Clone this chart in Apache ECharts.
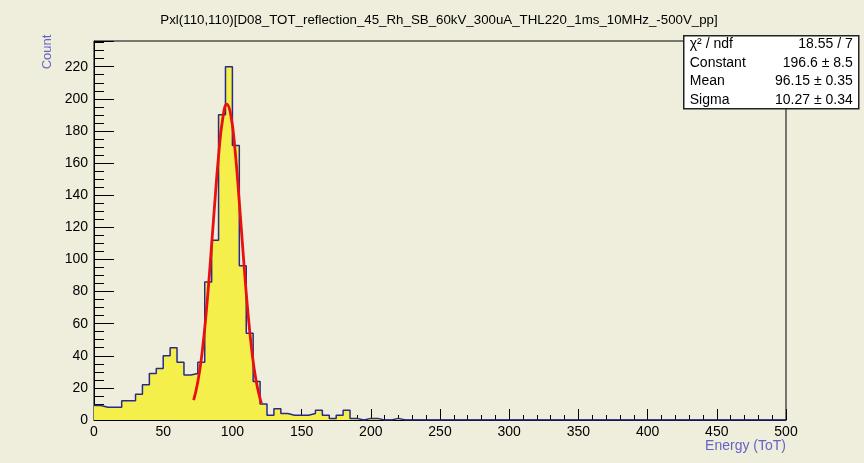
<!DOCTYPE html>
<html>
<head>
<meta charset="utf-8">
<script src="https://cdn.jsdelivr.net/npm/echarts@6/dist/echarts.min.js"></script>
<style>
    html, body { margin: 0; padding: 0; background: #efeedd; }
    #chart { width: 864px; height: 463px; }
</style>
</head>
<body>
<div id="chart"></div>
<script>
'use strict';

// histogram: 100 bins of width 5 from 0 to 500
var binWidth = 5;
var counts = [
    9, 8, 8, 8, 12, 12, 16, 22, 29, 32,
    40, 45, 36, 28, 29, 36, 86, 112, 190, 220,
    171, 96, 54, 24, 10, 3, 7, 4, 3, 3,
    3, 4, 6, 3, 1, 3, 6, 1, 0, 1,
    1, 0, 0, 1, 0, 0, 0, 0, 0, 0,
    0, 0, 0, 0, 0, 0, 0, 0, 0, 0,
    0, 0, 0, 0, 0, 0, 0, 0, 0, 0,
    0, 0, 0, 0, 0, 0, 0, 0, 0, 0,
    0, 0, 0, 0, 0, 0, 0, 0, 0, 0,
    0, 0, 0, 0, 0, 0, 0, 0, 0, 0
];

// red gaussian fit curve
var fitX = [72, 75, 78, 81, 84, 87, 90, 93, 96, 99, 102, 105, 108, 111, 114, 117, 120, 121];
var fitY = [12.4, 23.6, 41.2, 66.2, 97.6, 132.2, 164.3, 187.6, 196.6, 189.2, 167.2, 135.6, 101.1, 69.1, 43.4, 25.0, 13.3, 10.5];

var xTicks = [0, 50, 100, 150, 200, 250, 300, 350, 400, 450, 500];
var yTicks = [0, 20, 40, 60, 80, 100, 120, 140, 160, 180, 200, 220];

var title = 'Pxl(110,110)[D08_TOT_reflection_45_Rh_SB_60kV_300uA_THL220_1ms_10MHz_-500V_pp]';
var statLabels = ['\u03c7\u00b2 / ndf', 'Constant', 'Mean', 'Sigma'];
var statValues = ['18.55 / 7', '196.6 \u00b1 8.5', '96.15 \u00b1 0.35', '10.27 \u00b1 0.34'];

(function (echarts) {

    var FONT = '"Liberation Sans", Arial, sans-serif',
        AXIS_BLUE = '#6464c8';

    var Plot = {
        chart: null,

        init: function () {
            this.chart = echarts.init(document.getElementById('chart'), null, {renderer: 'canvas'});
            this.chart.setOption(this.buildOption());
        },

        histData: function () {
            // left edge of each bin, with the last bin closed at the right
            var data = counts.map(function (c, i) {
                return [i * binWidth, c];
            });
            data.push([counts.length * binWidth, counts[counts.length - 1]]);
            return data;
        },

        fitData: function () {
            return fitX.map(function (x, i) {
                return [x, fitY[i]];
            });
        },

        statsBox: function () {
            var children = [{
                type: 'rect',
                shape: {x: 0, y: 0, width: 175, height: 73},
                style: {fill: '#ffffff', stroke: '#222', lineWidth: 1.5}
            }];

            statLabels.forEach(function (label, i) {
                children.push({
                    type: 'text',
                    x: 6, y: 8.5 + i * 18.5,
                    style: {text: label, font: '14px ' + FONT, fill: '#000', textVerticalAlign: 'middle'}
                });
                children.push({
                    type: 'text',
                    x: 169, y: 8.5 + i * 18.5,
                    style: {text: statValues[i], font: '14px ' + FONT, fill: '#000', textAlign: 'right', textVerticalAlign: 'middle'}
                });
            });

            return {type: 'group', left: 683, top: 35, z: 100, children: children};
        },

        buildOption: function () {
            return {
                animation: false,
                backgroundColor: '#efeedd',
                grid: {left: 94, right: 78, top: 41, bottom: 43, show: true, borderColor: '#000', borderWidth: 1, backgroundColor: 'transparent'},
                xAxis: {
                    type: 'value',
                    min: xTicks[0],
                    max: xTicks[xTicks.length - 1],
                    interval: xTicks[1] - xTicks[0],
                    axisLine: {lineStyle: {color: '#000', width: 1}},
                    axisTick: {inside: true, length: 11, lineStyle: {color: '#000'}},
                    minorTick: {show: true, splitNumber: 5, length: 5, lineStyle: {color: '#000'}},
                    splitLine: {show: false},
                    axisLabel: {color: '#000', fontFamily: FONT, fontSize: 14, margin: 5}
                },
                yAxis: {
                    type: 'value',
                    min: yTicks[0],
                    max: 236,
                    interval: yTicks[1] - yTicks[0],
                    axisLine: {show: true, lineStyle: {color: '#000', width: 1}},
                    axisTick: {show: true, inside: true, length: 20, lineStyle: {color: '#000'}},
                    minorTick: {show: true, splitNumber: 4, length: 10, lineStyle: {color: '#000'}},
                    splitLine: {show: false},
                    axisLabel: {
                        color: '#000', fontFamily: FONT, fontSize: 14, margin: 6,
                        formatter: function (v) {
                            return yTicks.indexOf(v) !== -1 ? String(v) : '';
                        }
                    }
                },
                graphic: [
                    {
                        type: 'text', x: 439, y: 20,
                        style: {text: title, font: '13.3px ' + FONT, fill: '#000', textAlign: 'center', textVerticalAlign: 'middle'}
                    },
                    {
                        type: 'text', x: 47, y: 52, rotation: Math.PI / 2,
                        style: {text: 'Count', font: '13px ' + FONT, fill: AXIS_BLUE, textAlign: 'center', textVerticalAlign: 'middle'}
                    },
                    {
                        type: 'text', x: 786, y: 446,
                        style: {text: 'Energy (ToT)', font: '14px ' + FONT, fill: AXIS_BLUE, textAlign: 'right', textVerticalAlign: 'middle'}
                    },
                    this.statsBox()
                ],
                series: [
                    {
                        name: 'hist',
                        type: 'line',
                        step: 'end',
                        showSymbol: false,
                        data: this.histData(),
                        lineStyle: {color: '#2a2a88', width: 1.5},
                        areaStyle: {color: '#f4ef4a', opacity: 1, origin: 'start'},
                        z: 2
                    },
                    {
                        name: 'fit',
                        type: 'line',
                        smooth: true,
                        showSymbol: false,
                        data: this.fitData(),
                        lineStyle: {color: '#e81010', width: 2.8},
                        z: 3
                    }
                ]
            };
        }
    };

    Plot.init();

})(echarts);
</script>
</body>
</html>
